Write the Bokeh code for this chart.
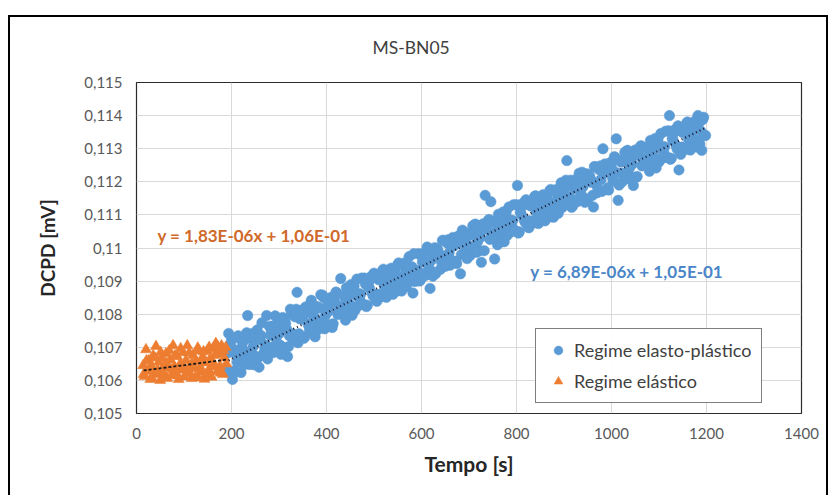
from bokeh.plotting import figure
from bokeh.models import FixedTicker, Label, Legend, LegendItem
from bokeh.embed import file_html
from bokeh.resources import INLINE

FONT = "Lato"

chart_title = "MS-BN05"
x_label = "Tempo [s]"
y_label = "DCPD [mV]"
x_ticks = [0, 200, 400, 600, 800, 1000, 1200, 1400]
x_tick_labels = ["0", "200", "400", "600", "800", "1000", "1200", "1400"]
y_ticks = [0.105, 0.106, 0.107, 0.108, 0.109, 0.110, 0.111, 0.112, 0.113, 0.114, 0.115]
y_tick_labels = ["0,105", "0,106", "0,107", "0,108", "0,109", "0,11", "0,111", "0,112", "0,113", "0,114", "0,115"]

series_plast = "Regime elasto-plástico"
series_elast = "Regime elástico"
eq_plast = "y = 6,89E-06x + 1,05E-01"
eq_elast = "y = 1,83E-06x + 1,06E-01"

plast_t = [
    190, 194, 198, 202, 206, 210, 214, 218, 222, 226,
    230, 234, 238, 242, 246, 250, 254, 258, 262, 266,
    270, 274, 278, 282, 286, 290, 294, 298, 302, 306,
    310, 314, 318, 322, 326, 330, 334, 338, 342, 346,
    350, 354, 358, 362, 366, 370, 374, 378, 382, 386,
    390, 394, 398, 402, 406, 410, 414, 418, 422, 426,
    430, 434, 438, 442, 446, 450, 454, 458, 462, 466,
    470, 474, 478, 482, 486, 490, 494, 498, 502, 506,
    510, 514, 518, 522, 526, 530, 534, 538, 542, 546,
    550, 554, 558, 562, 566, 570, 574, 578, 582, 586,
    590, 594, 598, 602, 606, 610, 614, 618, 622, 626,
    630, 634, 638, 642, 646, 650, 654, 658, 662, 666,
    670, 674, 678, 682, 686, 690, 694, 698, 702, 706,
    710, 714, 718, 722, 726, 730, 734, 738, 742, 746,
    750, 754, 758, 762, 766, 770, 774, 778, 782, 786,
    790, 794, 798, 802, 806, 810, 814, 818, 822, 826,
    830, 834, 838, 842, 846, 850, 854, 858, 862, 866,
    870, 874, 878, 882, 886, 890, 894, 898, 902, 906,
    910, 914, 918, 922, 926, 930, 934, 938, 942, 946,
    950, 954, 958, 962, 966, 970, 974, 978, 982, 986,
    990, 994, 998, 1002, 1006, 1010, 1014, 1018, 1022, 1026,
    1030, 1034, 1038, 1042, 1046, 1050, 1054, 1058, 1062, 1066,
    1070, 1074, 1078, 1082, 1086, 1090, 1094, 1098, 1102, 1106,
    1110, 1114, 1118, 1122, 1126, 1130, 1134, 1138, 1142, 1146,
    1150, 1154, 1158, 1162, 1166, 1170, 1174, 1178, 1182, 1186,
    1190, 1194, 1198,
    192, 196, 200, 204, 208, 212, 216, 220, 224, 228,
    232, 236, 240, 244, 248, 252, 256, 260, 264, 268,
    272, 276, 280, 284, 288, 292, 296, 300, 304, 308,
    312, 316, 320, 324, 328, 332, 336, 340, 344, 348,
    352, 356, 360, 364, 368, 372, 376, 380, 384, 388,
    392, 396, 400, 404, 408, 412, 416, 420, 424, 428,
    432, 436, 440, 444, 448, 452, 456, 460, 464, 468,
    472, 476, 480, 484, 488, 492, 496, 500, 504, 508,
    512, 516, 520, 524, 528, 532, 536, 540, 544, 548,
    552, 556, 560, 564, 568, 572, 576, 580, 584, 588,
    592, 596, 600, 604, 608, 612, 616, 620, 624, 628,
    632, 636, 640, 644, 648, 652, 656, 660, 664, 668,
    672, 676, 680, 684, 688, 692, 696, 700, 704, 708,
    712, 716, 720, 724, 728, 732, 736, 740, 744, 748,
    752, 756, 760, 764, 768, 772, 776, 780, 784, 788,
    792, 796, 800, 804, 808, 812, 816, 820, 824, 828,
    832, 836, 840, 844, 848, 852, 856, 860, 864, 868,
    872, 876, 880, 884, 888, 892, 896, 900, 904, 908,
    912, 916, 920, 924, 928, 932, 936, 940, 944, 948,
    952, 956, 960, 964, 968, 972, 976, 980, 984, 988,
    992, 996, 1000, 1004, 1008, 1012, 1016, 1020, 1024, 1028,
    1032, 1036, 1040, 1044, 1048, 1052, 1056, 1060, 1064, 1068,
    1072, 1076, 1080, 1084, 1088, 1092, 1096, 1100, 1104, 1108,
    1112, 1116, 1120, 1124, 1128, 1132, 1136, 1140, 1144, 1148,
    1152, 1156, 1160, 1164, 1168, 1172, 1176, 1180, 1184, 1188,
    1192, 1196,
]
plast_dcpd = [
    0.10682, 0.10742, 0.10710, 0.10603, 0.10629, 0.10691, 0.10735, 0.10659, 0.10700, 0.10647,
    0.10728, 0.10796, 0.10648, 0.10725, 0.10703, 0.10674, 0.10752, 0.10640, 0.10736, 0.10677,
    0.10698, 0.10796, 0.10682, 0.10736, 0.10764, 0.10704, 0.10730, 0.10785, 0.10707, 0.10761,
    0.10700, 0.10773, 0.10672, 0.10735, 0.10800, 0.10722, 0.10792, 0.10866, 0.10741, 0.10809,
    0.10785, 0.10730, 0.10813, 0.10767, 0.10831, 0.10763, 0.10793, 0.10820, 0.10754, 0.10819,
    0.10771, 0.10850, 0.10797, 0.10770, 0.10834, 0.10851, 0.10771, 0.10834, 0.10864, 0.10810,
    0.10908, 0.10807, 0.10831, 0.10880, 0.10804, 0.10862, 0.10797, 0.10885, 0.10858, 0.10825,
    0.10845, 0.10909, 0.10830, 0.10891, 0.10827, 0.10880, 0.10914, 0.10856, 0.10911, 0.10839,
    0.10904, 0.10852, 0.10932, 0.10884, 0.10851, 0.10913, 0.10934, 0.10881, 0.10911, 0.10869,
    0.10950, 0.10900, 0.10870, 0.10947, 0.10925, 0.10896, 0.10974, 0.10919, 0.10864, 0.10899,
    0.10920, 0.10983, 0.10904, 0.10958, 0.10986, 0.10926, 0.10952, 0.10878, 0.10929, 0.10983,
    0.10923, 0.10996, 0.10982, 0.10958, 0.11023, 0.10945, 0.11015, 0.10985, 0.10964, 0.11032,
    0.11008, 0.10953, 0.11036, 0.10922, 0.11054, 0.10986, 0.11016, 0.11043, 0.10977, 0.11042,
    0.10993, 0.11072, 0.11019, 0.10992, 0.10957, 0.11073, 0.11159, 0.11056, 0.11086, 0.11140,
    0.11081, 0.10967, 0.11053, 0.11102, 0.11026, 0.11084, 0.11019, 0.11107, 0.11080, 0.11047,
    0.11067, 0.11131, 0.11052, 0.11189, 0.11049, 0.11102, 0.11136, 0.11078, 0.11133, 0.11061,
    0.11127, 0.11075, 0.11155, 0.11107, 0.11074, 0.11136, 0.11157, 0.11104, 0.11134, 0.11092,
    0.11173, 0.11123, 0.11093, 0.11170, 0.11148, 0.11119, 0.11197, 0.11142, 0.11181, 0.11264,
    0.11142, 0.11205, 0.11126, 0.11180, 0.11208, 0.11148, 0.11174, 0.11229, 0.11151, 0.11205,
    0.11145, 0.11218, 0.11204, 0.11124, 0.11245, 0.11167, 0.11237, 0.11207, 0.11300, 0.11254,
    0.11230, 0.11175, 0.11258, 0.11212, 0.11276, 0.11330, 0.11144, 0.11265, 0.11199, 0.11264,
    0.11216, 0.11295, 0.11242, 0.11215, 0.11189, 0.11296, 0.11216, 0.11279, 0.11309, 0.11255,
    0.11304, 0.11252, 0.11276, 0.11325, 0.11249, 0.11307, 0.11242, 0.11330, 0.11303, 0.11270,
    0.11289, 0.11353, 0.11274, 0.11400, 0.11271, 0.11324, 0.11358, 0.11300, 0.11236, 0.11283,
    0.11349, 0.11297, 0.11377, 0.11329, 0.11296, 0.11358, 0.11379, 0.11326, 0.11400, 0.11314,
    0.11295, 0.11395, 0.11340,
    0.10627, 0.10686, 0.10726, 0.10622, 0.10682, 0.10655, 0.10727, 0.10624, 0.10716, 0.10684,
    0.10744, 0.10665, 0.10688, 0.10742, 0.10647, 0.10728, 0.10668, 0.10723, 0.10774, 0.10682,
    0.10707, 0.10665, 0.10763, 0.10748, 0.10684, 0.10795, 0.10711, 0.10741, 0.10679, 0.10790,
    0.10780, 0.10755, 0.10702, 0.10815, 0.10741, 0.10726, 0.10815, 0.10714, 0.10786, 0.10812,
    0.10727, 0.10822, 0.10806, 0.10750, 0.10842, 0.10781, 0.10732, 0.10823, 0.10777, 0.10859,
    0.10857, 0.10756, 0.10821, 0.10809, 0.10847, 0.10760, 0.10847, 0.10867, 0.10799, 0.10814,
    0.10812, 0.10856, 0.10782, 0.10878, 0.10832, 0.10890, 0.10821, 0.10812, 0.10906, 0.10862,
    0.10861, 0.10829, 0.10909, 0.10823, 0.10886, 0.10904, 0.10864, 0.10924, 0.10844, 0.10860,
    0.10858, 0.10904, 0.10936, 0.10856, 0.10903, 0.10883, 0.10939, 0.10860, 0.10932, 0.10908,
    0.10955, 0.10895, 0.10913, 0.10955, 0.10883, 0.10946, 0.10900, 0.10943, 0.10983, 0.10913,
    0.10932, 0.10900, 0.10976, 0.10965, 0.10917, 0.11003, 0.10939, 0.10962, 0.10915, 0.11001,
    0.10994, 0.10976, 0.10936, 0.11023, 0.10967, 0.10956, 0.11025, 0.10948, 0.11004, 0.11025,
    0.10960, 0.11034, 0.11022, 0.10980, 0.11051, 0.11005, 0.10968, 0.11038, 0.11004, 0.11067,
    0.11071, 0.10987, 0.11042, 0.11032, 0.11064, 0.10992, 0.11065, 0.11082, 0.11026, 0.11039,
    0.11037, 0.11077, 0.11010, 0.11097, 0.11056, 0.11109, 0.11046, 0.11038, 0.11124, 0.11084,
    0.11083, 0.11051, 0.11131, 0.11045, 0.11108, 0.11126, 0.11086, 0.11146, 0.11066, 0.11082,
    0.11080, 0.11126, 0.11158, 0.11078, 0.11125, 0.11105, 0.11161, 0.11082, 0.11154, 0.11130,
    0.11177, 0.11117, 0.11135, 0.11177, 0.11105, 0.11168, 0.11122, 0.11165, 0.11205, 0.11135,
    0.11155, 0.11123, 0.11199, 0.11188, 0.11140, 0.11226, 0.11162, 0.11185, 0.11138, 0.11224,
    0.11217, 0.11199, 0.11159, 0.11246, 0.11190, 0.11179, 0.11248, 0.11171, 0.11227, 0.11248,
    0.11182, 0.11256, 0.11244, 0.11202, 0.11273, 0.11227, 0.11190, 0.11260, 0.11226, 0.11289,
    0.11293, 0.11209, 0.11264, 0.11254, 0.11286, 0.11214, 0.11287, 0.11304, 0.11248, 0.11261,
    0.11259, 0.11299, 0.11232, 0.11319, 0.11278, 0.11331, 0.11268, 0.11260, 0.11346, 0.11306,
    0.11306, 0.11274, 0.11354, 0.11268, 0.11331, 0.11349, 0.11309, 0.11369, 0.11289, 0.11305,
    0.11303, 0.11349, 0.11381, 0.11301, 0.11348, 0.11328, 0.11384, 0.11305, 0.11377, 0.11353,
    0.11388, 0.11341,
]

elast_t = [
    14, 17, 20, 23, 26, 29, 32, 35, 38, 41,
    44, 47, 50, 53, 56, 59, 62, 65, 68, 71,
    74, 77, 80, 83, 86, 89, 92, 95, 98, 101,
    104, 107, 110, 113, 116, 119, 122, 125, 128, 131,
    134, 137, 140, 143, 146, 149, 152, 155, 158, 161,
    164, 167, 170, 173, 176, 179, 182, 185, 188,
    15, 21, 27, 33, 39, 45, 51, 57, 63, 69,
    75, 81, 87, 93, 99, 105, 111, 117, 123, 129,
    135, 141, 147, 153, 159, 165, 171, 177, 183, 189,
]
elast_dcpd = [
    0.10645, 0.10612, 0.10693, 0.10628, 0.10660, 0.10603, 0.10641, 0.10675, 0.10618, 0.10703,
    0.10632, 0.10655, 0.10600, 0.10668, 0.10624, 0.10647, 0.10681, 0.10606, 0.10638, 0.10662,
    0.10615, 0.10705, 0.10641, 0.10620, 0.10672, 0.10603, 0.10650, 0.10632, 0.10684, 0.10611,
    0.10660, 0.10705, 0.10627, 0.10645, 0.10606, 0.10676, 0.10636, 0.10658, 0.10612, 0.10689,
    0.10640, 0.10625, 0.10670, 0.10604, 0.10653, 0.10690, 0.10631, 0.10665, 0.10610, 0.10696,
    0.10648, 0.10712, 0.10627, 0.10680, 0.10643, 0.10705, 0.10618, 0.10668, 0.10700,
    0.10618, 0.10660, 0.10637, 0.10606, 0.10668, 0.10622, 0.10685, 0.10609, 0.10652, 0.10690,
    0.10633, 0.10675, 0.10614, 0.10696, 0.10640, 0.10621, 0.10683, 0.10650, 0.10608, 0.10698,
    0.10660, 0.10687, 0.10619, 0.10700, 0.10641, 0.10676, 0.10702, 0.10622, 0.10690, 0.10650,
]

plast_trend_t = [194, 1198]
plast_trend_dcpd = [0.10660, 0.11363]
elast_trend_t = [15, 191]
elast_trend_dcpd = [0.10630, 0.10663]

BLUE = "#5B9BD5"
ORANGE = "#ED7D31"
TEXT = "#595959"

frame_css = ("linear-gradient(#000,#000) 8px 15px / 2px 490px no-repeat, "
             "linear-gradient(#000,#000) 8px 15px / 820px 2px no-repeat, "
             "linear-gradient(#000,#000) 826px 15px / 2px 490px no-repeat, #ffffff")

p = figure(width=829, height=495, x_range=(0, 1400), y_range=(0.105, 0.115),
           output_backend="svg", toolbar_location=None,
           min_border_left=136, min_border_right=28, min_border_top=82, min_border_bottom=82,
           background_fill_color="white", border_fill_color=None,
           styles={"background": frame_css})

p.title.text = chart_title
p.title.align = "left"
p.title.offset = 236
p.title.standoff = 49
p.title.text_font = FONT
p.title.text_font_size = "17.5px"
p.title.text_font_style = "normal"
p.title.text_color = "#404040"

p.outline_line_color = "#2b2b2b"
p.outline_line_width = 1.2

for ax in (p.xaxis[0], p.yaxis[0]):
    ax.axis_line_color = None
    ax.major_tick_line_color = None
    ax.minor_tick_line_color = None
    ax.major_tick_out = 0
    ax.major_tick_in = 0
    ax.major_label_text_font = FONT
    ax.major_label_text_font_size = "15px"
    ax.major_label_text_color = TEXT
    ax.axis_label_text_font = FONT
    ax.axis_label_text_font_style = "bold"
    ax.axis_label_text_color = "#262626"

p.xaxis.ticker = FixedTicker(ticks=x_ticks)
p.xaxis.major_label_overrides = dict(zip(x_ticks, x_tick_labels))
p.xaxis.major_label_standoff = 14
p.xaxis.axis_label = x_label
p.xaxis.axis_label_text_font_size = "21px"
p.xaxis.axis_label_standoff = 9

p.yaxis.ticker = FixedTicker(ticks=y_ticks)
p.yaxis.major_label_overrides = dict(zip(y_ticks, y_tick_labels))
p.yaxis.major_label_standoff = 14
p.yaxis.axis_label = y_label
p.yaxis.axis_label_text_font_size = "19px"
p.yaxis.axis_label_standoff = 22

p.xgrid.ticker = FixedTicker(ticks=x_ticks)
p.ygrid.ticker = FixedTicker(ticks=y_ticks)
for g in (p.xgrid[0], p.ygrid[0]):
    g.grid_line_color = "#D9D9D9"
    g.grid_line_width = 1

r_plast = p.scatter(plast_t, plast_dcpd, marker="circle", size=10.5,
                    fill_color=BLUE, line_color=BLUE, line_width=0.5)
r_elast = p.scatter(elast_t, elast_dcpd, marker="triangle", size=11,
                    fill_color=ORANGE, line_color=ORANGE, line_width=0.5)

p.line(plast_trend_t, plast_trend_dcpd, line_color="#1a1a2e", line_width=2.2, line_dash="1 3")
p.line(elast_trend_t, elast_trend_dcpd, line_color="#1a1a1a", line_width=1.8, line_dash="3 2")

p.add_layout(Label(x=44, y=0.11038, text=eq_elast, text_baseline="middle",
                   text_font=FONT, text_font_size="17px", text_font_style="bold",
                   text_color="#D0692A"))
p.add_layout(Label(x=829, y=0.10929, text=eq_plast, text_baseline="middle",
                   text_font=FONT, text_font_size="17px", text_font_style="bold",
                   text_color="#4A86C8"))

legend = Legend(items=[LegendItem(label=series_plast, renderers=[r_plast]),
                       LegendItem(label=series_elast, renderers=[r_elast])],
                location=(399, 10))
legend.border_line_color = "black"
legend.border_line_width = 1
legend.background_fill_color = "white"
legend.padding = 10
legend.margin = 0
legend.spacing = 9
legend.glyph_width = 24
legend.glyph_height = 22
legend.label_height = 22
legend.label_standoff = 4
legend.label_text_font = FONT
legend.label_text_font_size = "18px"
legend.label_text_color = "#404040"
p.add_layout(legend, "center")

open("out.html", "w").write(file_html(p, INLINE))
